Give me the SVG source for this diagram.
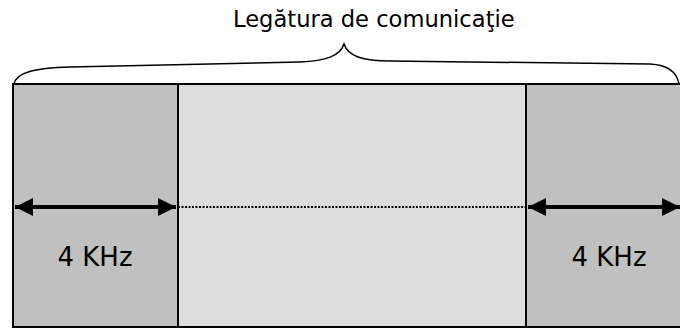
<svg xmlns="http://www.w3.org/2000/svg" width="680" height="329" viewBox="0 0 680 329">
<style>
.t{font-family:"DejaVu Sans",Verdana,sans-serif;fill:#000}
.box{stroke:#000;stroke-width:2}
.arr{stroke:#000;stroke-width:4;fill:none}
</style>
<defs>
<marker id="ah" viewBox="0 0 10 10" refX="10" refY="5" markerWidth="4.5" markerHeight="4.5" orient="auto-start-reverse" markerUnits="strokeWidth">
<path d="M0,0 L10,5 L0,10 z" fill="#000"/>
</marker>
</defs>
<rect width="680" height="329" fill="#fff"/>
<g id="left"><rect class="box" x="13" y="84" width="165" height="243" fill="#c0c0c0"/><text class="t" x="95" y="266" font-size="26" text-anchor="middle">4 KHz</text></g>
<g id="middle"><rect class="box" x="178" y="84" width="348" height="243" fill="#dcdcdc"/></g>
<g id="right"><rect class="box" x="526" y="84" width="160" height="243" fill="#c0c0c0"/><text class="t" x="609" y="266" font-size="26" text-anchor="middle">4 KHz</text></g>
<g id="label"><text class="t" x="233" y="27" font-size="22.6">Legătura de comunicaţie</text></g>
<g id="connectors">
<path d="M14,84 C16,73 33,68 70,67 L300,62 C326,61 340,56 344,44 C348,56 362,61 390,61 L650,64 C668,65 677,72 679,84" fill="none" stroke="#000" stroke-width="1.5"/>
<line class="arr" x1="15" y1="207" x2="176" y2="207" marker-start="url(#ah)" marker-end="url(#ah)"/>
<line x1="178" y1="207" x2="526" y2="207" stroke="#000" stroke-width="2" stroke-dasharray="2,1.5"/>
<line class="arr" x1="528" y1="207" x2="680" y2="207" marker-start="url(#ah)" marker-end="url(#ah)"/>
</g>
</svg>
